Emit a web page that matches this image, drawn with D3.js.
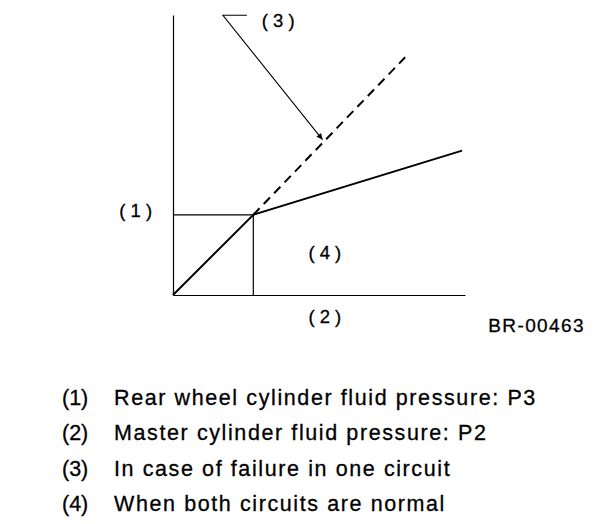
<!DOCTYPE html>
<html>
<head>
<meta charset="utf-8">
<script src="https://cdn.jsdelivr.net/npm/d3@7"></script>
<style>
  body { margin: 0; background: #fff; }
  svg { display: block; font-family: "Liberation Sans", Arial, sans-serif; }
  text { fill: #000; stroke: #000; stroke-width: 0.3px; }
</style>
</head>
<body>
<svg id="chart" width="608" height="524"></svg>
<script>
// master pressure P2 (x) vs rear pressure P3 (y), arbitrary units
const normalLine = [[0, 0], [27.5, 27.5], [99, 49.5]]
const failureLine = [[27.5, 27.5], [79.5, 81.5]]
const kneePoint = [27.5, 27.5]
const calloutLine = [[25.3, 95.9], [17.1, 95.9], [51.2, 53.3]]

const chartLabels = [
  { text: '( 1 )', x: -12.8, y: 29 },
  { text: '( 2 )', x: 52, y: -7.5 },
  { text: '( 3 )', x: 36, y: 94 },
  { text: '( 4 )', x: 52, y: 14.5 },
]
const figureCode = 'BR-00463'
const legendNums = ['(1)', '(2)', '(3)', '(4)']
const legendTexts = [
  'Rear wheel cylinder fluid pressure: P3',
  'Master cylinder fluid pressure: P2',
  'In case of failure in one circuit',
  'When both circuits are normal',
]

const svg = d3.select('#chart')

const x = d3.scaleLinear().domain([0, 100]).range([173, 465])
const y = d3.scaleLinear().domain([0, 96]).range([295, 15])

const line = d3.line().x(d => x(d[0])).y(d => y(d[1]))

svg.append('defs').append('marker')
    .attr('id', 'head')
    .attr('viewBox', '0 0 10 10')
    .attr('refX', 10).attr('refY', 5)
    .attr('markerWidth', 8).attr('markerHeight', 6)
    .attr('markerUnits', 'userSpaceOnUse')
    .attr('orient', 'auto')
  .append('path')
    .attr('d', 'M0,0L10,5L0,10Z')
    .attr('fill', '#000')

// axes: plain lines, no ticks
svg.append('g')
    .attr('transform', `translate(0,${y(0)})`)
    .call(d3.axisBottom(x).ticks(0).tickSizeOuter(0))
svg.append('g')
    .attr('transform', `translate(${x(0)},0)`)
    .call(d3.axisLeft(y).ticks(0).tickSizeOuter(0))
svg.selectAll('.domain').attr('stroke', '#000').attr('stroke-width', 1.2)

// guide lines from the knee to the axes
svg.append('path')
    .attr('d', line([[0, kneePoint[1]], kneePoint, [kneePoint[0], 0]]))
    .attr('fill', 'none')
    .attr('stroke', '#000')
    .attr('stroke-width', 1.2)

svg.append('path')
    .attr('d', line(normalLine))
    .attr('fill', 'none')
    .attr('stroke', '#000')
    .attr('stroke-width', 2)

svg.append('path')
    .attr('d', line(failureLine))
    .attr('fill', 'none')
    .attr('stroke', '#000')
    .attr('stroke-width', 2)
    .attr('stroke-dasharray', '9,6')

svg.append('path')
    .attr('d', line(calloutLine))
    .attr('fill', 'none')
    .attr('stroke', '#000')
    .attr('stroke-width', 1.1)
    .attr('marker-end', 'url(#head)')

svg.selectAll('.lbl')
  .data(chartLabels)
  .enter().append('text')
    .attr('class', 'lbl')
    .attr('x', d => x(d.x))
    .attr('y', d => y(d.y))
    .attr('text-anchor', 'middle')
    .attr('dominant-baseline', 'central')
    .attr('font-size', 18.5)
    .text(d => d.text)

svg.append('text')
    .attr('x', 585)
    .attr('y', 332)
    .attr('text-anchor', 'end')
    .attr('font-size', 19)
    .attr('letter-spacing', 1.4)
    .text(figureCode)

const legend = svg.append('g')
const rowY = d3.scalePoint().domain(d3.range(legendTexts.length)).range([405, 511])

legend.selectAll('.num')
  .data(legendNums)
  .enter().append('text')
    .attr('class', 'num')
    .attr('x', 62)
    .attr('y', (d, i) => rowY(i))
    .attr('font-size', 21.5)
    .text(d => d)

legend.selectAll('.desc')
  .data(legendTexts)
  .enter().append('text')
    .attr('class', 'desc')
    .attr('x', 114)
    .attr('y', (d, i) => rowY(i))
    .attr('font-size', 21.5)
    .attr('letter-spacing', 1.6)
    .text(d => d)
</script>
</body>
</html>
